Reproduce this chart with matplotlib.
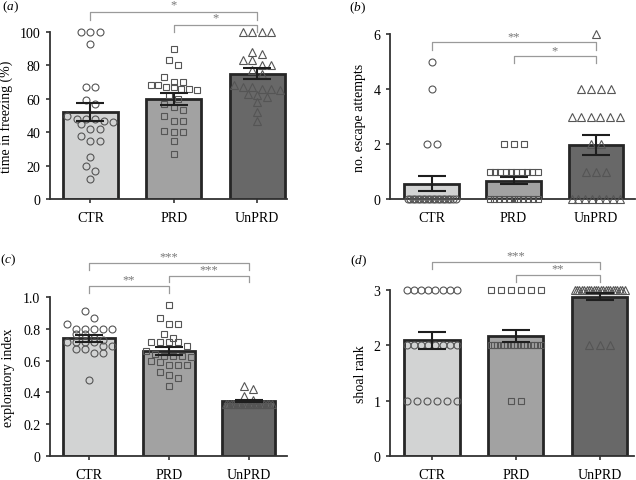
import numpy as np
import matplotlib.pyplot as plt

plt.rcParams['font.family'] = 'Liberation Serif'
plt.rcParams['mathtext.fontset'] = 'custom'
plt.rcParams['mathtext.it'] = 'Liberation Serif:italic'
plt.rcParams['mathtext.rm'] = 'Liberation Serif'

groups = ['CTR', 'PRD', 'UnPRD']
bar_colors = ['#d2d3d3', '#a2a2a2', '#686868']
markers = ['o', 's', '^']

# (a) time in freezing (%)
freeze_ctr = [100, 100, 100, 93, 67, 67, 59, 57, 50, 48, 48, 48, 47, 46, 45, 42, 42,
              38, 35, 35, 25, 20, 17, 12]
freeze_prd = [90, 83, 80, 73, 70, 70, 68, 68, 67, 67, 66, 66, 65, 62, 60, 57, 55, 53,
              50, 47, 47, 41, 40, 40, 35, 27]
freeze_unprd = [100, 100, 100, 100, 88, 87, 83, 83, 80, 80, 77, 75, 68, 67, 67, 66, 66,
                65, 63, 62, 61, 58, 52, 47]
freeze_mean = [52, 60, 75]
freeze_sem = [5.5, 3.5, 3.4]

# (b) no. escape attempts
escape_ctr = [5, 4, 2, 2, 0, 0, 0, 0, 0, 0, 0, 0, 0, 0, 0, 0, 0, 0, 0, 0, 0, 0, 0, 0]
escape_prd = [2, 2, 2, 1, 1, 1, 1, 1, 1, 1, 1, 1, 1, 0, 0, 0, 0, 0, 0, 0, 0, 0, 0, 0]
escape_unprd = [6, 4, 4, 4, 4, 3, 3, 3, 3, 3, 3, 2, 2, 1, 1, 1, 0, 0, 0, 0, 0, 0, 0, 0]
escape_mean = [0.55, 0.67, 1.96]
escape_sem = [0.27, 0.12, 0.36]

# (c) exploratory index
explo_ctr = [0.91, 0.87, 0.83, 0.80, 0.80, 0.80, 0.80, 0.80, 0.77, 0.77, 0.74, 0.73,
             0.72, 0.72, 0.72, 0.72, 0.69, 0.69, 0.67, 0.67, 0.65, 0.65, 0.48]
explo_prd = [0.95, 0.87, 0.83, 0.83, 0.77, 0.74, 0.72, 0.72, 0.72, 0.72, 0.69, 0.66,
             0.64, 0.63, 0.63, 0.63, 0.62, 0.60, 0.59, 0.57, 0.57, 0.57, 0.53, 0.51,
             0.49, 0.44]
explo_unprd = [0.44, 0.42, 0.38, 0.35, 0.33, 0.33, 0.33, 0.33, 0.33, 0.33, 0.33, 0.33,
               0.33, 0.33, 0.33, 0.33, 0.33, 0.33, 0.33, 0.33, 0.33, 0.33, 0.33, 0.33]
explo_mean = [0.74, 0.66, 0.345]
explo_sem = [0.02, 0.025, 0.006]

# (d) shoal rank
shoal_ctr = [3, 3, 3, 3, 3, 3, 3, 3, 2, 2, 2, 2, 2, 2, 2, 2, 1, 1, 1, 1, 1, 1]
shoal_prd = [3, 3, 3, 3, 3, 3, 2, 2, 2, 2, 2, 2, 2, 2, 2, 2, 2, 2, 2, 2, 2, 2, 1, 1]
shoal_unprd = [3, 3, 3, 3, 3, 3, 3, 3, 3, 3, 3, 3, 3, 3, 3, 3, 3, 3, 3, 3, 3, 3, 2, 2, 2]
shoal_mean = [2.09, 2.17, 2.88]
shoal_sem = [0.155, 0.11, 0.065]

W, H = 636, 481
fig = plt.figure(figsize=(W / 100, H / 100), dpi=100)


def add_ax(l, t, r, b):
    return fig.add_axes([l / W, 1 - b / H, (r - l) / W, (b - t) / H])


def scatter_x(ax, vals, center, d, maxw):
    # points whose heights are within ~one marker are laid side by side, centred
    vals = np.asarray(vals, float)
    tr = ax.transData
    cx = tr.transform((center, 0))[0]
    ys = tr.transform(np.column_stack([np.full(len(vals), center), vals]))[:, 1]
    order = np.argsort(-vals, kind='stable')
    bins, cur = [], [order[0]]
    for j in order[1:]:
        if ys[cur[0]] - ys[j] < 0.75 * d:
            cur.append(j)
        else:
            bins.append(cur)
            cur = [j]
    bins.append(cur)
    offs = np.zeros(len(vals))
    for b in bins:
        n = len(b)
        if n == 1:
            continue
        step = min(d, maxw / (n - 1))
        row = (np.arange(n) - (n - 1) / 2) * step
        for k, j in enumerate(b):
            offs[j] = row[k]
    inv = tr.inverted()
    return inv.transform(np.column_stack([cx + offs, ys]))[:, 0]


def panel(ax, data, means, sems, ylim, yticks, yticklabels, ylabel, xlim, d, maxw,
          label_x):
    ax.set_xlim(xlim)
    ax.set_ylim(ylim)
    x = np.arange(3)
    ax.bar(x, means, 0.66, color=bar_colors, edgecolor='#262626', linewidth=2, zorder=1)
    for i in range(3):
        xs = scatter_x(ax, data[i], i, d, maxw)
        ax.plot(xs, data[i], ls='none', marker=markers[i],
                ms=5.5 if markers[i] == '^' else 5, mfc='none', mec='#555555',
                mew=0.8, zorder=3, clip_on=False)
    ax.errorbar(x, means, yerr=sems, fmt='none', ecolor='#1e1e1e', elinewidth=1.5,
                capsize=10, capthick=1.5, zorder=4)
    for s in ['top', 'right']:
        ax.spines[s].set_visible(False)
    for s in ['left', 'bottom']:
        ax.spines[s].set_linewidth(1.3)
        ax.spines[s].set_color('#333333')
    ax.set_xticks(x)
    ax.set_xticklabels(groups, fontsize=10)
    ax.set_yticks(yticks)
    ax.set_yticklabels(yticklabels, fontsize=10)
    ax.tick_params(length=3, width=1.2, color='#333333')
    ax.tick_params(axis='x', pad=6)
    ax.tick_params(axis='y', pad=4)
    ax.set_ylabel(ylabel, fontsize=10)
    ax.yaxis.set_label_coords(label_x, 0.5)
    ax.patch.set_alpha(0)


def bracket(ax, x1, x2, y, ydrop, text, ty):
    ax.plot([x1, x1, x2, x2], [ydrop, y, y, ydrop], color='#9a9a9a', lw=0.9,
            clip_on=False)
    ax.text((x1 + x2) / 2, ty, text, ha='center', va='center', color='#777777',
            fontsize=9, clip_on=False)


ax_a = add_ax(50, 33, 287, 200)
panel(ax_a, [freeze_ctr, freeze_prd, freeze_unprd], freeze_mean, freeze_sem,
      (0, 100), [0, 20, 40, 60, 80, 100], ['0', '20', '40', '60', '80', '100'],
      'time in freezing (%)', (-0.485, 2.36), 9.5, 46, -0.155)
bracket(ax_a, 0, 2, 112, 107.2, '*', 116.5)
bracket(ax_a, 1, 2, 104.2, 100, '*', 108.5)

ax_b = add_ax(390, 35, 635, 200)
panel(ax_b, [escape_ctr, escape_prd, escape_unprd], escape_mean, escape_sem,
      (0, 6), [0, 2, 4, 6], ['0', '2', '4', '6'],
      'no. escape attempts', (-0.506, 2.48), 10, 48, -0.098)
bracket(ax_b, 0, 2, 5.72, 5.43, '**', 5.93)
bracket(ax_b, 1, 2, 5.21, 4.95, '*', 5.42)

ax_c = add_ax(50, 298, 287, 457)
panel(ax_c, [explo_ctr, explo_prd, explo_unprd], explo_mean, explo_sem,
      (0, 1.0), [0, 0.2, 0.4, 0.6, 0.8, 1.0], ['0', '0.2', '0.4', '0.6', '0.8', '1.0'],
      'exploratory index', (-0.489, 2.48), 9, 46, -0.148)
bracket(ax_c, 0, 2, 1.214, 1.172, '***', 1.255)
bracket(ax_c, 1, 2, 1.134, 1.092, '***', 1.175)
bracket(ax_c, 0, 1, 1.067, 1.025, '**', 1.108)

ax_d = add_ax(390, 291, 634, 457)
panel(ax_d, [shoal_ctr, shoal_prd, shoal_unprd], shoal_mean, shoal_sem,
      (0, 3), [0, 1, 2, 3], ['0', '1', '2', '3'],
      'shoal rank', (-0.50, 2.41), 10.5, 50, -0.094)
bracket(ax_d, 0, 2, 3.51, 3.38, '***', 3.63)
bracket(ax_d, 1, 2, 3.27, 3.14, '**', 3.39)

# panel letters
for px, py, letter in [(2, 7, 'a'), (349, 8, 'b'), (0, 260, 'c'), (350, 261, 'd')]:
    fig.text(px / W, 1 - py / H, '($\\it{' + letter + '}$)', fontsize=9.5,
             ha='left', va='center')

fig.savefig('out.png', dpi=100)
